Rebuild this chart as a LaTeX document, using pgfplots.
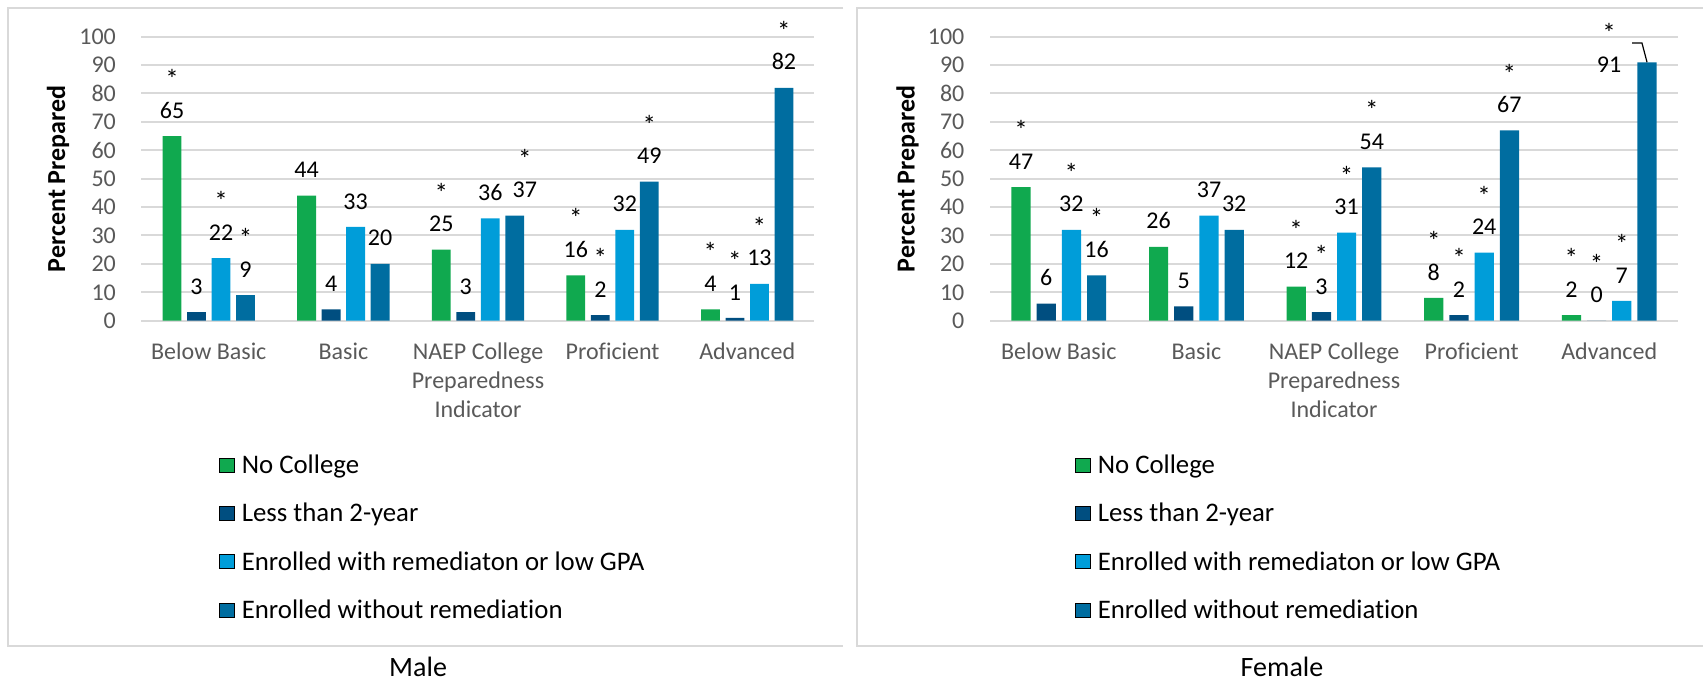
\documentclass[border=0pt]{standalone}
\usepackage{fontspec}
\setmainfont{Carlito}[Ligatures=CommonOff]
\usepackage{pgfplots}
\usepackage{pgfplotstable}
\pgfplotsset{compat=1.18}

\definecolor{ncgreen}{RGB}{16,169,79}
\definecolor{ltnavy}{RGB}{0,78,128}
\definecolor{ercyan}{RGB}{0,157,217}
\definecolor{ewblue}{RGB}{0,109,160}
\definecolor{gridgray}{RGB}{217,217,217}
\definecolor{ticktext}{RGB}{89,89,89}

% columns: category index, percent prepared, significance star (1 = marked *)
\pgfplotstableread{
x y s
0 65 1
1 44 0
2 25 1
3 16 1
4 4 1
}\maleNC
\pgfplotstableread{
x y s
0 3 0
1 4 0
2 3 0
3 2 1
4 1 1
}\maleLT
\pgfplotstableread{
x y s
0 22 1
1 33 0
2 36 0
3 32 0
4 13 1
}\maleER
\pgfplotstableread{
x y s
0 9 1
1 20 0
2 37 1
3 49 1
4 82 1
}\maleEW
\pgfplotstableread{
x y s
0 47 1
1 26 0
2 12 1
3 8 1
4 2 1
}\femNC
\pgfplotstableread{
x y s
0 6 0
1 5 0
2 3 1
3 2 1
4 0 1
}\femLT
\pgfplotstableread{
x y s
0 32 1
1 37 0
2 31 1
3 24 1
4 7 1
}\femER
\pgfplotstableread{
x y s
0 16 1
1 32 0
2 54 1
3 67 1
4 91 1
}\femEW

\pgfplotsset{
  panel/.style={
    scale only axis, height=142pt,
    ymin=0, ymax=100, ytick={0,10,...,100},
    xmin=-0.5, xmax=4.5, xtick={0,...,4},
    xticklabels={Below Basic, Basic, {NAEP College\\Preparedness\\Indicator}, Proficient, Advanced},
    clip=false,
    axis line style={draw=none}, major tick length=0pt,
    ymajorgrids, grid style={gridgray, line width=1pt},
    /pgf/number format/assume math mode=true,
    tick label style={font=\fontsize{12}{14.5}\selectfont, text=ticktext},
    yticklabel style={xshift=-9.3pt},
    xticklabel style={align=center, anchor=north, inner sep=0pt, yshift=-11pt},
    ylabel={Percent Prepared},
    ylabel style={font=\fontsize{13}{15}\selectfont\bfseries, anchor=center},
    xlabel style={font=\fontsize{14}{16}\selectfont, anchor=center},
    legend style={draw=none, fill=none, inner sep=0pt, outer sep=0pt,
      anchor=north west, row sep=12.15pt, font=\fontsize{13.4}{15.5}\selectfont,
      nodes={inner sep=0pt, text height=9pt, text depth=3pt}},
    legend cell align=left,
    legend image code/.code={\fill[##1] (0pt,-2.2pt) rectangle (7.5pt,4.8pt); \path (11pt,0pt);},
  },
  % value labels at a given bar shift
  vals/.style={
    nodes near coords={\pgfmathprintnumber[fixed,precision=0]{\pgfplotspointmeta}},
    every node near coord/.append style={anchor=south, inner sep=0pt,
      font=\fontsize{12}{14.5}\selectfont, text=black, xshift=#1, yshift=8.7pt}},
  % bars of one series, with their value labels
  bars/.style 2 args={forget plot, ybar, fill=#1, draw=none, bar shift=#2, vals=#2},
  % labels only (invisible bars), for series whose labels are placed in parts
  labels/.style 2 args={forget plot, ybar, fill=none, draw=none, bar shift=#1, vals=#1,
    y filter/.expression={#2 ? y : nan}},
  % significance stars over the flagged bars of one series
  stars/.style 2 args={forget plot, ybar, fill=none, draw=none, bar shift=#1,
    y filter/.expression={\thisrow{s}>0 && (#2) ? y : nan},
    nodes near coords={*},
    every node near coord/.append style={anchor=south, inner sep=0pt,
      font=\fontsize{13.5}{15}\selectfont, text=black, xshift=#1, yshift=23.5pt}},
}

\begin{document}
\begin{tikzpicture}
\begin{scope}[x=0.5pt,y=-0.5pt]
  \useasboundingbox (0,0) rectangle (1703,682);
  \draw[gridgray, line width=1pt] (843,8) -- (7.7,8) -- (7.7,646) -- (843,646);
  \draw[gridgray, line width=1pt] (1712,8) -- (856.7,8) -- (856.7,646) -- (1712,646);
\end{scope}

% Male
\begin{axis}[panel, at={(70.75pt,-160.35pt)}, anchor=south west,
  width=336.5pt, bar width=9.4pt,
  ylabel style={at={(axis description cs:-0.124,0.5)}},
  xlabel={Male}, xlabel style={at={(axis description cs:0.411,-1.219)}},
  legend style={at={(0.1152,-0.475)}}]
  \addplot[bars={ncgreen}{-18.375pt}] table {\maleNC};
  \addplot[bars={ltnavy}{-6.125pt}] table {\maleLT};
  \addplot[bars={ercyan}{6.125pt}] table {\maleER};
  % the NAEP label of this series is nudged right, clear of its neighbour
  \addplot[forget plot, ybar, fill=ewblue, draw=none, bar shift=18.375pt] table {\maleEW};
  \addplot[labels={18.375pt}{\thisrow{x}!=2}] table {\maleEW};
  \addplot[labels={18.375pt}{\thisrow{x}==2},
    every node near coord/.append style={xshift=5pt}] table {\maleEW};
  \addplot[stars={-18.375pt}{1}] table {\maleNC};
  \addplot[stars={-6.125pt}{1}] table {\maleLT};
  \addplot[stars={6.125pt}{1}] table {\maleER};
  \addplot[stars={18.375pt}{\thisrow{x}!=2}] table {\maleEW};
  \addplot[stars={18.375pt}{\thisrow{x}==2},
    every node near coord/.append style={xshift=5pt}] table {\maleEW};
  \addlegendimage{fill=ncgreen}\addlegendentry{No College}
  \addlegendimage{fill=ltnavy}\addlegendentry{Less than 2-year}
  \addlegendimage{fill=ercyan}\addlegendentry{Enrolled with remediaton or low GPA}
  \addlegendimage{fill=ewblue}\addlegendentry{Enrolled without remediation}
\end{axis}

% Female
\begin{axis}[panel, at={(495pt,-160.35pt)}, anchor=south west,
  width=344pt, bar width=9.6pt,
  ylabel style={at={(axis description cs:-0.12,0.5)}},
  xlabel={Female}, xlabel style={at={(axis description cs:0.4244,-1.219)}},
  legend style={at={(0.1235,-0.475)}}]
  \addplot[bars={ncgreen}{-18.9pt}] table {\femNC};
  \addplot[bars={ltnavy}{-6.3pt}] table {\femLT};
  \addplot[bars={ercyan}{6.3pt}] table {\femER};
  % the Advanced label sits beside its bar, so this series is labelled in two parts
  \addplot[forget plot, ybar, fill=ewblue, draw=none, bar shift=18.9pt] table {\femEW};
  \addplot[labels={18.9pt}{\thisrow{x}<3.5}] table {\femEW};
  \addplot[labels={18.9pt}{\thisrow{x}>3.5},
    every node near coord/.append style={xshift=-19pt, yshift=-14pt}] table {\femEW};
  \addplot[stars={-18.9pt}{1}] table {\femNC};
  \addplot[stars={-6.3pt}{1}] table {\femLT};
  \addplot[stars={6.3pt}{1}] table {\femER};
  \addplot[stars={18.9pt}{\thisrow{x}<3.5}] table {\femEW};
  \addplot[stars={18.9pt}{\thisrow{x}>3.5},
    every node near coord/.append style={xshift=-19pt, yshift=-14pt}] table {\femEW};
  \addlegendimage{fill=ncgreen}\addlegendentry{No College}
  \addlegendimage{fill=ltnavy}\addlegendentry{Less than 2-year}
  \addlegendimage{fill=ercyan}\addlegendentry{Enrolled with remediaton or low GPA}
  \addlegendimage{fill=ewblue}\addlegendentry{Enrolled without remediation}
  % leader line from the moved 91 label to its bar
  \draw[black, line width=0.6pt] (axis cs:4.166,97.8) -- (axis cs:4.238,97.8) -- (axis cs:4.275,91);
\end{axis}
\end{tikzpicture}
\end{document}
